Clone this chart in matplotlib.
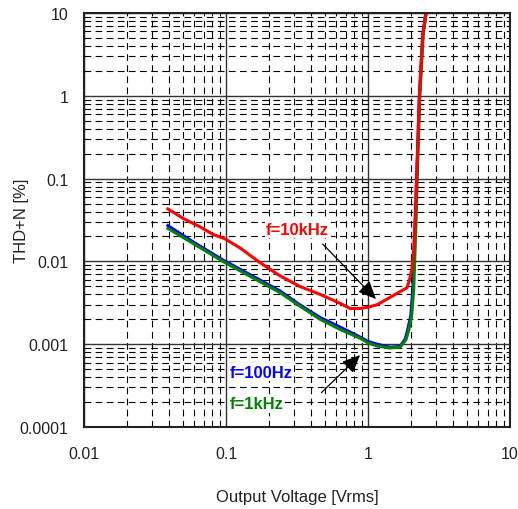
import matplotlib
matplotlib.use('Agg')
import matplotlib.pyplot as plt
from matplotlib.ticker import LogLocator, NullFormatter

plt.rcParams['font.family'] = ['Liberation Sans', 'DejaVu Sans']

# f=10kHz (red)
red_x = [0.039, 0.05, 0.066, 0.081, 0.098, 0.126, 0.173, 0.24, 0.33, 0.46, 0.64, 0.75,
         0.88, 1.0, 1.16, 1.36, 1.68, 1.88, 1.95, 2.04, 2.1, 2.15, 2.2, 2.3, 2.43, 2.56]
red_y = [0.043, 0.033, 0.026, 0.0212, 0.0188, 0.0145, 0.0097, 0.0067, 0.0050, 0.0040, 0.0031, 0.0027,
         0.0027, 0.0028, 0.0030, 0.0035, 0.0043, 0.0048, 0.0058, 0.0081, 0.014, 0.035, 0.1, 1.0, 5.5, 10.0]

# f=100Hz (blue)
blue_x = [0.039, 0.059, 0.095, 0.148, 0.24, 0.33, 0.46, 0.64, 0.88, 1.0, 1.16, 1.43, 1.68,
          1.83, 1.91, 2.0, 2.07, 2.1, 2.15, 2.2, 2.3, 2.43, 2.56]
blue_y = [0.027, 0.0171, 0.0104, 0.0069, 0.0044, 0.0030, 0.0021, 0.0016, 0.00122, 0.00108, 0.00100, 0.00092, 0.00094,
          0.00116, 0.00153, 0.0022, 0.0046, 0.0098, 0.03, 0.1, 1.0, 5.5, 10.0]

# f=1kHz (green)
green_x = [0.039, 0.059, 0.095, 0.148, 0.24, 0.33, 0.46, 0.64, 0.88, 1.0, 1.16, 1.43, 1.68,
           1.85, 1.94, 2.03, 2.1, 2.13, 2.18, 2.22, 2.32, 2.45, 2.57]
green_y = [0.025, 0.0164, 0.0100, 0.0066, 0.0042, 0.0029, 0.0020, 0.0015, 0.00118, 0.00104, 0.00095, 0.00090, 0.00092,
           0.00113, 0.0015, 0.0022, 0.0046, 0.0098, 0.03, 0.1, 1.0, 5.5, 10.0]

x_ticks = [0.01, 0.1, 1, 10]
x_labels = ['0.01', '0.1', '1', '10']
y_ticks = [0.0001, 0.001, 0.01, 0.1, 1, 10]
y_labels = ['0.0001', '0.001', '0.01', '0.1', '1', '10']

fig = plt.figure(figsize=(5.18, 5.10), dpi=100)
ax = fig.add_axes([84/518, 82/510, 426/518, 414/510])
ax.set_xscale('log')
ax.set_yscale('log')
ax.set_xlim(0.01, 10)
ax.set_ylim(0.0001, 10)

ax.set_xticks(x_ticks)
ax.set_xticklabels(x_labels)
ax.set_yticks(y_ticks)
ax.set_yticklabels(y_labels)
ax.xaxis.set_minor_locator(LogLocator(base=10, subs=range(2, 10)))
ax.yaxis.set_minor_locator(LogLocator(base=10, subs=range(2, 10)))
ax.xaxis.set_minor_formatter(NullFormatter())
ax.yaxis.set_minor_formatter(NullFormatter())
ax.tick_params(which='both', length=0, labelsize=11.5, colors='#222222')
ax.tick_params(axis='x', pad=14)
ax.tick_params(axis='y', pad=11)

ax.grid(which='minor', color='black', linewidth=0.8, linestyle=(0, (6, 4)))
ax.grid(which='major', color='#333333', linewidth=1.0, linestyle='-')
ax.set_axisbelow(True)

for s in ax.spines.values():
    s.set_linewidth(1.5)
    s.set_color('#222222')

ax.plot(blue_x, blue_y, color='#0000ff', lw=2.2)
ax.plot(green_x, green_y, color='#008000', lw=2.2)
ax.plot(red_x, red_y, color='#ff0000', lw=2.2)

bb = dict(facecolor='white', edgecolor='none', pad=1)
ax.text(0.32, 0.0246, 'f=10kHz', color='#ff0000', fontsize=12, fontweight='bold',
        ha='center', va='center', bbox=bb)
ax.text(0.177, 0.00046, 'f=100Hz', color='#0000ff', fontsize=12, fontweight='bold',
        ha='center', va='center', bbox=bb)
ax.text(0.165, 0.00019, 'f=1kHz', color='#008000', fontsize=12, fontweight='bold',
        ha='center', va='center', bbox=bb)

arrow = dict(arrowstyle='-|>,head_length=0.55,head_width=0.24', color='black', lw=0.9,
             mutation_scale=20, shrinkA=0, shrinkB=0)
ax.annotate('', xy=(1.14, 0.0035), xytext=(0.48, 0.0162), arrowprops=arrow)
ax.annotate('', xy=(0.88, 0.00074), xytext=(0.47, 0.00026), arrowprops=arrow)

ax.set_xlabel('Output Voltage [Vrms]', fontsize=12, labelpad=20, color='#222222')
ax.set_ylabel('THD+N [%]', fontsize=12, color='#222222')
ax.yaxis.set_label_coords(-0.13, 0.5)

fig.savefig('out.png', dpi=100)
